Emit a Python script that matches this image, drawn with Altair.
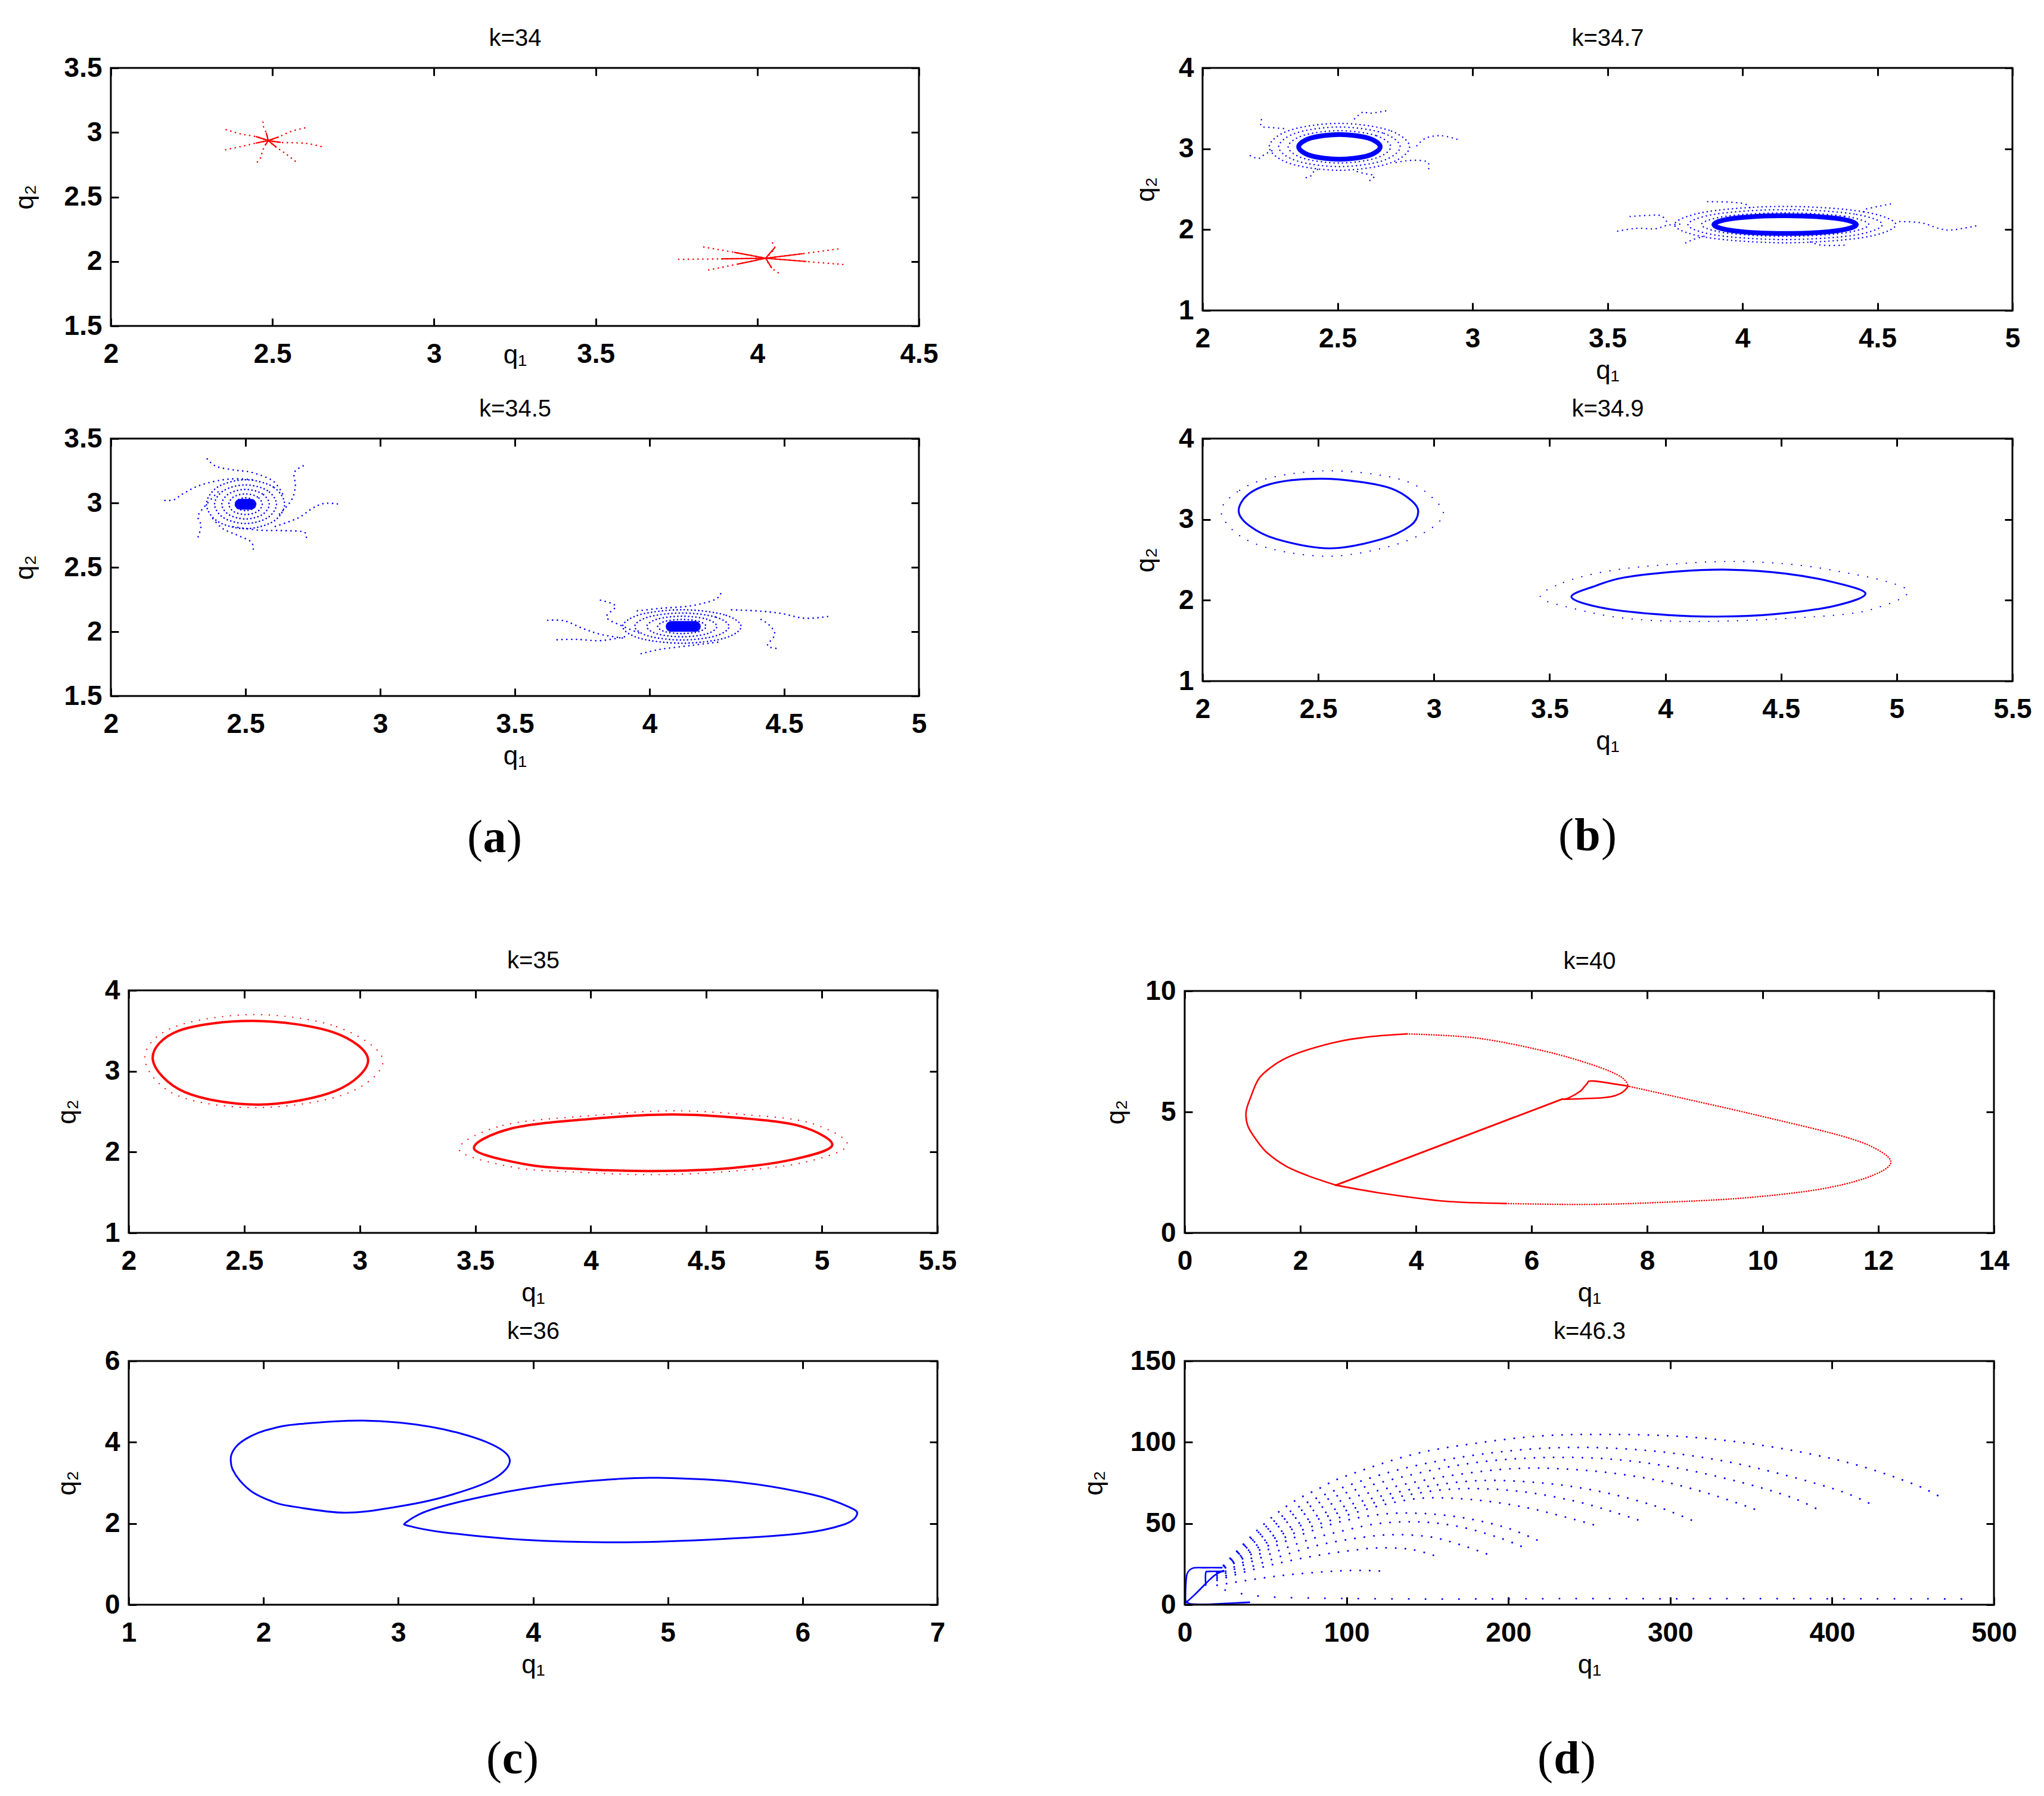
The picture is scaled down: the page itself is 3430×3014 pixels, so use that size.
import altair as alt
import pandas as pd

W, H = 3414, 2998          # drawing area (page minus the 8px margins)
RED, BLUE = "#ff0000", "#0000ff"
SANS = "Liberation Sans, Arial, Helvetica, sans-serif"
SERIF = "Liberation Serif, Times New Roman, serif"

# ---------------- panel titles, domains and ticks ----------------
PANEL_TITLES = {"A1": "k=34", "A2": "k=34.5", "B1": "k=34.7", "B2": "k=34.9",
                "C1": "k=35", "C2": "k=36", "D1": "k=40", "D2": "k=46.3"}
X_DOMAINS = {"A1": [2, 4.5], "A2": [2, 5], "B1": [2, 5], "B2": [2, 5.5],
             "C1": [2, 5.5], "C2": [1, 7], "D1": [0, 14], "D2": [0, 500]}
Y_DOMAINS = {"A1": [1.5, 3.5], "A2": [1.5, 3.5], "B1": [1, 4], "B2": [1, 4],
             "C1": [1, 4], "C2": [0, 6], "D1": [0, 10], "D2": [0, 150]}
X_TICKS = {"A1": [2, 2.5, 3, 3.5, 4, 4.5],
           "A2": [2, 2.5, 3, 3.5, 4, 4.5, 5],
           "B1": [2, 2.5, 3, 3.5, 4, 4.5, 5],
           "B2": [2, 2.5, 3, 3.5, 4, 4.5, 5, 5.5],
           "C1": [2, 2.5, 3, 3.5, 4, 4.5, 5, 5.5],
           "C2": [1, 2, 3, 4, 5, 6, 7],
           "D1": [0, 2, 4, 6, 8, 10, 12, 14],
           "D2": [0, 100, 200, 300, 400, 500]}
Y_TICKS = {"A1": [1.5, 2, 2.5, 3, 3.5], "A2": [1.5, 2, 2.5, 3, 3.5],
           "B1": [1, 2, 3, 4], "B2": [1, 2, 3, 4], "C1": [1, 2, 3, 4],
           "C2": [0, 2, 4, 6], "D1": [0, 5, 10], "D2": [0, 50, 100, 150]}
GROUP_LABELS = ["a", "b", "c", "d"]

# ---------------- k=34 : red star-shaped trajectories ----------------
K34_LEFT_ARMS = [
    [(2.487, 2.937), (2.481, 2.995), (2.471, 3.057), (2.473, 3.115)],
    [(2.487, 2.937), (2.450, 2.967), (2.401, 2.989), (2.347, 3.029)],
    [(2.487, 2.937), (2.450, 2.918), (2.401, 2.890), (2.351, 2.864)],
    [(2.487, 2.937), (2.478, 2.903), (2.468, 2.849), (2.465, 2.811), (2.451, 2.764)],
    [(2.487, 2.937), (2.511, 2.887), (2.542, 2.833), (2.573, 2.772)],
    [(2.487, 2.937), (2.524, 2.923), (2.604, 2.915), (2.659, 2.885)],
    [(2.487, 2.937), (2.518, 2.964), (2.560, 3.010), (2.613, 3.042)],
]
K34_RIGHT_ARMS = [
    [(4.026, 2.025), (4.054, 2.107), (4.039, 2.162)],
    [(4.026, 2.025), (4.044, 1.952), (4.069, 1.906)],
    [(4.026, 2.025), (3.890, 2.020), (3.757, 2.016)],
    [(4.026, 2.025), (3.930, 2.070), (3.831, 2.113)],
    [(4.026, 2.025), (3.940, 1.980), (3.849, 1.934)],
    [(4.026, 2.025), (4.140, 2.060), (4.254, 2.098)],
    [(4.026, 2.025), (4.150, 2.000), (4.277, 1.974)],
]

# ---------------- k=34.5 : blue spiral foci ----------------
K345_LEFT_TAILS = [
    [(2.358, 3.342), (2.391, 3.284), (2.460, 3.255), (2.525, 3.236), (2.603, 3.169), (2.640, 3.060)],
    [(2.714, 3.288), (2.681, 3.236), (2.685, 3.131), (2.670, 3.020), (2.620, 2.900)],
    [(2.841, 2.992), (2.792, 2.996), (2.748, 2.958), (2.693, 2.881), (2.600, 2.810)],
    [(2.726, 2.733), (2.715, 2.775), (2.638, 2.785), (2.547, 2.789), (2.440, 2.820)],
    [(2.529, 2.641), (2.520, 2.699), (2.469, 2.750), (2.413, 2.804), (2.370, 2.900)],
    [(2.324, 2.737), (2.335, 2.824), (2.324, 2.900), (2.358, 2.996), (2.400, 3.090)],
    [(2.201, 3.019), (2.235, 3.025), (2.269, 3.073), (2.335, 3.140), (2.436, 3.185), (2.530, 3.180)],
]
K345_LEFT_RINGS = [
    [(2.645, 2.99), (2.603, 3.124), (2.50, 3.18), (2.397, 3.124), (2.355, 2.99), (2.397, 2.856), (2.50, 2.80), (2.603, 2.856)],
    [(2.615, 2.99), (2.581, 3.096), (2.50, 3.14), (2.419, 3.096), (2.385, 2.99), (2.419, 2.884), (2.50, 2.84), (2.581, 2.884)],
    [(2.588, 2.99), (2.562, 3.071), (2.50, 3.105), (2.438, 3.071), (2.412, 2.99), (2.438, 2.909), (2.50, 2.875), (2.562, 2.909)],
    [(2.562, 2.99), (2.544, 3.047), (2.50, 3.07), (2.456, 3.047), (2.438, 2.99), (2.456, 2.933), (2.50, 2.91), (2.544, 2.933)],
    [(2.538, 2.99), (2.527, 3.025), (2.50, 3.04), (2.473, 3.025), (2.462, 2.99), (2.473, 2.955), (2.50, 2.94), (2.527, 2.955)],
]
K345_RIGHT_TAILS = [
    [(3.818, 2.244), (3.874, 2.199), (3.840, 2.113), (3.896, 2.046), (3.960, 1.990)],
    [(3.622, 2.088), (3.684, 2.084), (3.751, 2.026), (3.818, 1.979), (3.900, 1.950)],
    [(3.657, 1.937), (3.729, 1.940), (3.818, 1.930), (3.907, 1.960)],
    [(3.969, 1.829), (4.041, 1.863), (4.152, 1.892), (4.263, 1.921)],
    [(4.469, 1.870), (4.438, 1.894), (4.465, 1.979), (4.442, 2.056), (4.400, 2.110)],
    [(4.661, 2.117), (4.576, 2.104), (4.487, 2.142), (4.398, 2.161), (4.300, 2.170)],
    [(4.264, 2.295), (4.241, 2.248), (4.152, 2.200), (4.041, 2.181), (3.950, 2.160)],
]
K345_RIGHT_RINGS = [
    [(4.34, 2.04), (4.276, 2.132), (4.12, 2.17), (3.964, 2.132), (3.90, 2.04), (3.964, 1.948), (4.12, 1.91), (4.276, 1.948)],
    [(4.295, 2.04), (4.244, 2.114), (4.12, 2.145), (3.996, 2.114), (3.945, 2.04), (3.996, 1.966), (4.12, 1.935), (4.244, 1.966)],
    [(4.25, 2.04), (4.212, 2.097), (4.12, 2.12), (4.028, 2.097), (3.99, 2.04), (4.028, 1.983), (4.12, 1.96), (4.212, 1.983)],
    [(4.21, 2.04), (4.184, 2.079), (4.12, 2.095), (4.056, 2.079), (4.03, 2.04), (4.056, 2.001), (4.12, 1.985), (4.184, 2.001)],
    [(4.17, 2.04), (4.155, 2.061), (4.12, 2.07), (4.085, 2.061), (4.07, 2.04), (4.085, 2.019), (4.12, 2.01), (4.155, 2.019)],
]
K345_CORES = [[(2.48, 2.99), (2.52, 2.99)], [(4.08, 2.04), (4.17, 2.04)]]

# ---------------- k=34.7 : limit cycles with surrounding spirals ----------------
K347_CYCLES = [
    [(2.658, 3.024), (2.614, 3.132), (2.507, 3.177), (2.400, 3.132), (2.356, 3.024), (2.400, 2.916), (2.507, 2.871), (2.614, 2.916)],
    [(4.422, 2.062), (4.345, 2.140), (4.158, 2.172), (3.971, 2.140), (3.894, 2.062), (3.971, 1.984), (4.158, 1.952), (4.345, 1.984)],
]
K347_CLOUD_RINGS = [
    [(2.697, 3.024), (2.641, 3.165), (2.507, 3.224), (2.373, 3.165), (2.317, 3.024), (2.373, 2.883), (2.507, 2.824), (2.641, 2.883)],
    [(2.732, 3.024), (2.666, 3.197), (2.507, 3.269), (2.348, 3.197), (2.282, 3.024), (2.348, 2.851), (2.507, 2.779), (2.666, 2.851)],
    [(2.767, 3.024), (2.691, 3.229), (2.507, 3.314), (2.323, 3.229), (2.247, 3.024), (2.323, 2.819), (2.507, 2.734), (2.691, 2.819)],
    [(4.468, 2.062), (4.377, 2.165), (4.158, 2.207), (3.939, 2.165), (3.848, 2.062), (3.939, 1.959), (4.158, 1.917), (4.377, 1.959)],
    [(4.518, 2.062), (4.413, 2.193), (4.158, 2.247), (3.903, 2.193), (3.798, 2.062), (3.903, 1.931), (4.158, 1.877), (4.413, 1.931)],
    [(4.568, 2.062), (4.448, 2.221), (4.158, 2.287), (3.868, 2.221), (3.748, 2.062), (3.868, 1.903), (4.158, 1.837), (4.448, 1.903)],
]
K347_TAILS = [
    [(2.218, 3.360), (2.218, 3.278), (2.253, 3.263), (2.300, 3.250)],
    [(2.177, 2.914), (2.207, 2.880), (2.230, 2.931), (2.260, 2.980)],
    [(2.384, 2.644), (2.402, 2.667), (2.414, 2.725), (2.440, 2.760)],
    [(2.620, 2.608), (2.636, 2.667), (2.597, 2.695), (2.560, 2.730)],
    [(2.838, 2.754), (2.831, 2.841), (2.769, 2.856), (2.712, 2.827)],
    [(2.942, 3.118), (2.884, 3.162), (2.827, 3.132), (2.792, 3.031)],
    [(2.678, 3.468), (2.620, 3.439), (2.593, 3.453), (2.560, 3.360)],
    [(3.538, 1.981), (3.607, 2.016), (3.676, 2.010), (3.722, 2.054), (3.780, 2.070)],
    [(3.584, 2.162), (3.653, 2.176), (3.699, 2.171), (3.722, 2.084)],
    [(3.871, 2.346), (3.951, 2.340), (4.009, 2.317), (4.030, 2.260)],
    [(4.548, 2.317), (4.502, 2.287), (4.450, 2.250)],
    [(4.864, 2.045), (4.777, 1.996), (4.731, 2.011), (4.662, 2.084), (4.580, 2.100)],
    [(4.376, 1.807), (4.295, 1.807), (4.250, 1.850)],
    [(3.790, 1.836), (3.820, 1.880), (3.860, 1.920)],
]

# ---------------- k=34.9 : two limit cycles ----------------
K349_CYCLES = [
    [(2.51, 3.503), (2.68, 3.465), (2.817, 3.381), (2.905, 3.228), (2.932, 3.091), (2.898, 2.922), (2.772, 2.754),
     (2.55, 2.642), (2.322, 2.754), (2.202, 2.922), (2.156, 3.108), (2.202, 3.32), (2.322, 3.457)],
    [(3.594, 2.042), (3.70, 2.18), (3.821, 2.281), (4.05, 2.355), (4.276, 2.378), (4.52, 2.33), (4.731, 2.22),
     (4.865, 2.082), (4.731, 1.93), (4.48, 1.83), (4.222, 1.798), (3.95, 1.83), (3.714, 1.914)],
]
K349_OUTER = [
    [(2.08, 3.10), (2.16, 3.36), (2.30, 3.52), (2.52, 3.60), (2.74, 3.56), (2.90, 3.45), (3.00, 3.25), (3.04, 3.05),
     (2.96, 2.84), (2.80, 2.66), (2.56, 2.545), (2.32, 2.62), (2.16, 2.80)],
    [(3.46, 2.04), (3.56, 2.22), (3.75, 2.36), (4.00, 2.44), (4.28, 2.48), (4.56, 2.44), (4.80, 2.33), (4.97, 2.22),
     (5.05, 2.10), (4.95, 1.94), (4.75, 1.82), (4.22, 1.74), (3.85, 1.77), (3.60, 1.90)],
]

# ---------------- k=35 : two red limit cycles ----------------
K35_CYCLES = [
    [(2.54, 3.622), (2.882, 3.485), (3.036, 3.14), (2.895, 2.757), (2.562, 2.587), (2.242, 2.742), (2.104, 3.149), (2.216, 3.50)],
    [(3.495, 2.04), (3.654, 2.29), (4.0, 2.41), (4.347, 2.465), (4.65, 2.42), (4.907, 2.32), (5.045, 2.086),
     (4.88, 1.911), (4.6, 1.80), (4.267, 1.765), (3.95, 1.79), (3.708, 1.853)],
]
K35_OUTER = [
    [(2.54, 3.70), (2.90, 3.55), (3.10, 3.14), (2.94, 2.72), (2.56, 2.55), (2.21, 2.70), (2.07, 3.15), (2.19, 3.54)],
    [(3.43, 2.03), (3.62, 2.33), (4.0, 2.45), (4.35, 2.51), (4.68, 2.46), (4.95, 2.36), (5.11, 2.09),
     (4.92, 1.87), (4.6, 1.76), (4.27, 1.72), (3.95, 1.75), (3.67, 1.81)],
]

# ---------------- k=36 : two blue closed orbits ----------------
K36_CYCLES = [
    [(1.758, 3.512), (1.762, 3.698), (1.803, 3.914), (1.872, 4.087), (1.963, 4.235), (2.077, 4.347), (2.237, 4.439),
     (2.740, 4.532), (3.242, 4.378), (3.653, 4.007), (3.827, 3.574), (3.698, 3.08), (3.333, 2.648), (2.968, 2.40),
     (2.603, 2.265), (2.191, 2.432), (2.054, 2.556), (1.918, 2.773), (1.826, 3.05), (1.771, 3.327)],
    [(3.059, 2.03), (3.242, 2.34), (3.698, 2.71), (4.156, 2.958), (4.612, 3.093), (4.932, 3.123), (5.526, 3.019),
     (6.074, 2.71), (6.348, 2.402), (6.403, 2.216), (6.302, 1.97), (5.982, 1.753), (5.297, 1.599), (4.612, 1.537),
     (3.927, 1.599), (3.333, 1.784), (3.082, 1.938)],
]

# ---------------- k=40 : red orbit with two loops ----------------
K40_LEFT_LOOP = [(2.616, 1.973), (2.134, 2.362), (1.759, 2.751), (1.437, 3.288), (1.245, 3.823), (1.095, 4.407),
                 (1.062, 4.992), (1.137, 5.576), (1.277, 6.355), (1.491, 6.842), (1.759, 7.232), (2.134, 7.573),
                 (2.67, 7.914), (3.206, 8.108), (3.849, 8.225), (5.028, 8.06), (6.206, 7.524), (7.064, 6.94),
                 (7.546, 6.453), (7.674, 6.063), (7.546, 5.771), (7.278, 5.596), (6.635, 5.527), (6.528, 5.527)]
K40_CHORD = [(6.528, 5.527), (2.616, 1.973)]
K40_LOWER = [(2.616, 1.973), (3.42, 1.633), (4.492, 1.31), (5.564, 1.214), (6.957, 1.175), (8.242, 1.261),
             (9.636, 1.436), (10.92, 1.778), (11.78, 2.266), (12.21, 2.85), (11.99, 3.433), (11.35, 4.018),
             (9.85, 4.894), (8.778, 5.478), (7.674, 6.063), (7.064, 6.278), (6.957, 6.16), (6.85, 5.87),
             (6.635, 5.57), (6.528, 5.527)]

# ---------------- k=46.3 : blue escaping trajectories ----------------
K463_ARCS = [
    [(20, 20), (45, 46), (65, 62), (84, 72), (99, 79), (141, 92.5), (180, 99.4), (222, 104), (264, 104.8),
     (306, 103.6), (344, 99.9), (382, 93.7), (417, 85.5), (451, 74), (467, 66.2)],
    [(20, 20), (45, 44), (70, 60), (100, 73), (140, 85), (190, 93.5), (237, 96.8), (285, 95), (330, 89),
     (370, 80), (405, 70), (424, 61.9)],
    [(20, 20), (45, 42), (70, 57), (100, 69), (140, 80), (180, 87.5), (222, 90.6), (265, 89.5), (305, 84),
     (345, 75), (375, 66), (392, 58.2)],
    [(20, 20), (45, 40), (70, 54), (100, 65), (140, 75), (175, 81), (210, 84), (250, 82.5), (290, 77),
     (325, 68), (357, 57)],
    [(20, 20), (45, 37), (70, 50), (100, 61), (140, 71), (180, 76.3), (220, 75), (255, 70), (290, 61), (315, 51.2)],
    [(20, 20), (45, 35), (70, 48), (100, 58), (135, 67), (168, 71.3), (205, 70), (240, 64), (265, 57), (283, 51.2)],
    [(20, 20), (45, 33), (70, 45), (100, 55), (125, 62), (149, 65.7), (180, 64.5), (210, 60), (235, 54), (255, 48.5)],
    [(20, 18), (40, 28), (60, 38), (80, 46), (100, 52), (125, 56), (150, 56), (175, 53), (200, 47), (220, 38.7)],
    [(20, 17), (40, 26), (60, 34), (80, 41), (100, 46), (120, 50), (145, 51), (170, 48), (195, 41), (210, 35)],
    [(20, 16), (40, 23), (60, 30), (80, 36), (100, 40), (125, 43), (150, 42), (170, 37), (190, 30)],
    [(20, 15), (40, 21), (60, 26), (80, 30), (100, 33), (120, 35), (140, 34), (155, 30)],
    [(20, 12), (45, 16), (70, 19), (100, 21), (122, 20.7)],
]
K463_FLOOR = [(25, 9), (40, 6), (60, 4.5), (100, 3.8), (150, 3.5), (200, 3.6), (250, 3.8), (300, 3.7),
              (350, 3.8), (400, 3.7), (480, 3.6)]
K463_CORE = [
    [(0.5, 1.0), (0.6, 10), (1.5, 19), (5, 22.5), (12, 22.8), (23, 22.8)],
    [(0.5, 2.5), (3, 0.6), (10, 0.2), (22, 0.6), (40, 1.5)],
    [(1, 1.5), (6, 6), (11, 11), (15, 15), (19, 18.5), (24, 21)],
    [(13, 12), (13, 19.5), (15, 20.5), (24, 20.5)],
]

# ---------------- layout (page pixels) ----------------
BOX = {  # left, right, top, bottom of each plot frame
    "A1": (186, 1542, 114, 547), "A2": (186, 1542, 736, 1168),
    "B1": (2018, 3377, 114, 521), "B2": (2018, 3377, 736, 1143),
    "C1": (216, 1573, 1662, 2069), "C2": (216, 1573, 2284, 2693),
    "D1": (1988, 3346, 1663, 2069), "D2": (1988, 3346, 2284, 2693),
}
Q2_X = {"A1": -144, "A2": -144, "B1": -95, "B2": -95, "C1": -103, "C2": -103, "D1": -115, "D2": -152}
Q1_Y = {"A1": 75, "A2": 127, "B1": 127, "B2": 127, "C1": 127, "C2": 127, "D1": 127, "D2": 127}
LABEL_POS = {"a": (822, 1399), "b": (2656, 1396), "c": (852, 2945), "d": (2621, 2945)}
LABEL_HALF = {"a": 19, "b": 22, "c": 17, "d": 22}
TICK = 13


def scales(p):
    l, r, t, b = BOX[p]
    sx = alt.Scale(domain=X_DOMAINS[p], range=[l - 8, r - 8], nice=False, zero=False)
    sy = alt.Scale(domain=Y_DOMAINS[p], range=[b - 8, t - 8], nice=False, zero=False)
    return sx, sy


def curve_df(curves):
    rows = []
    for g, c in enumerate(curves):
        for o, (x, y) in enumerate(c):
            rows.append({"x": x, "y": y, "g": g, "o": o})
    return pd.DataFrame(rows)


layers = []


def add(p, curves, color, width, dash=None, closed=False, interp="cardinal"):
    sx, sy = scales(p)
    kw = dict(color=color, strokeWidth=width, strokeCap="round", strokeJoin="round",
              interpolate="cardinal-closed" if closed else interp)
    if dash is not None:
        kw["strokeDash"] = dash
    layers.append(
        alt.Chart(curve_df(curves)).mark_line(**kw).encode(
            x=alt.X("x:Q", scale=sx, axis=None),
            y=alt.Y("y:Q", scale=sy, axis=None),
            detail="g:N", order="o:Q"))


# k=34
add("A1", K34_LEFT_ARMS + K34_RIGHT_ARMS, RED, 2.6, dash=[0.1, 8])
add("A1", [a[:2] for a in K34_LEFT_ARMS + K34_RIGHT_ARMS], RED, 2.2)
# k=34.5
add("A2", K345_LEFT_TAILS + K345_RIGHT_TAILS, BLUE, 2.6, dash=[0.1, 8])
add("A2", K345_LEFT_RINGS + K345_RIGHT_RINGS, BLUE, 2.6, dash=[0.1, 6], closed=True)
add("A2", K345_CORES, BLUE, 18)
# k=34.7
add("B1", K347_TAILS, BLUE, 2.4, dash=[0.1, 8])
add("B1", K347_CLOUD_RINGS, BLUE, 2.4, dash=[0.1, 7], closed=True)
add("B1", K347_CYCLES, BLUE, 8, closed=True)
# k=34.9
add("B2", K349_OUTER, BLUE, 2.2, dash=[0.1, 16], closed=True)
add("B2", K349_CYCLES, BLUE, 3.2, closed=True)
# k=35
add("C1", K35_OUTER, RED, 2.2, dash=[0.1, 13], closed=True)
add("C1", K35_CYCLES, RED, 4, closed=True)
# k=36
add("C2", K36_CYCLES, BLUE, 3, closed=True)
# k=40
add("D1", [K40_LEFT_LOOP[:15], K40_LEFT_LOOP[19:]], RED, 2.6)
add("D1", [K40_LEFT_LOOP[14:20]], RED, 2.6, dash=[0.1, 4])
add("D1", [K40_CHORD], RED, 3, interp="linear")
add("D1", [K40_LOWER[:4], K40_LOWER[14:]], RED, 2.6)
add("D1", [K40_LOWER[3:15]], RED, 2.6, dash=[0.1, 4])
# k=46.3
add("D2", K463_ARCS, BLUE, 3, dash=[0.1, 16])
add("D2", [K463_FLOOR], BLUE, 3, dash=[0.1, 28])
add("D2", K463_CORE, BLUE, 2.6)


def frame(p):
    l, r, t, b = BOX[p]
    sx, sy = scales(p)
    df = pd.DataFrame([{"x0": X_DOMAINS[p][0], "x1": X_DOMAINS[p][1],
                        "y0": Y_DOMAINS[p][0], "y1": Y_DOMAINS[p][1]}])
    tick = dict(domain=False, grid=False, tickSize=TICK, tickWidth=3, tickColor="black")
    lab = dict(labelFont=SANS, labelFontSize=46, labelFontWeight="bold", labelColor="black",
               labelOverlap=False, labelExpr="'' + datum.value")
    ttl = dict(titleFont=SANS, titleFontSize=44, titleFontWeight="normal", titleColor="black")
    xb = alt.Axis(orient="bottom", values=X_TICKS[p], offset=b - 8 - TICK - H, labelPadding=25,
                  labelFlush=False, title="q₁", titleBaseline="alphabetic", titleY=Q1_Y[p],
                  **tick, **lab, **ttl)
    yl = alt.Axis(orient="left", values=Y_TICKS[p], offset=-(l - 8 + TICK), labelPadding=15,
                  title="q₂", titleAngle=270, titleBaseline="alphabetic", titleX=Q2_X[p],
                  **tick, **lab, **ttl)
    box = alt.Chart(df).mark_rect(fillOpacity=0, stroke="black", strokeWidth=3).encode(
        x=alt.X("x0:Q", scale=sx, axis=xb), x2="x1:Q",
        y=alt.Y("y0:Q", scale=sy, axis=yl), y2="y1:Q")
    xt = alt.Axis(orient="top", values=X_TICKS[p], offset=-(t - 8 + TICK), labels=False,
                  title=PANEL_TITLES[p], titleFont=SANS, titleFontSize=40, titleFontWeight="normal",
                  titleColor="black", titleBaseline="alphabetic", titleY=-51, **tick)
    yr = alt.Axis(orient="right", values=Y_TICKS[p], offset=(r - 8 - TICK) - W, labels=False,
                  title="", **tick)
    aux = alt.Chart(df).mark_point(opacity=0).encode(
        x=alt.X("x0:Q", scale=sx, axis=xt),
        y=alt.Y("y0:Q", scale=sy, axis=yr))
    return [box, aux]


for p in BOX:
    layers.extend(frame(p))


def text_piece(txt, x, y, align, weight):
    return alt.Chart(pd.DataFrame({"t": [txt]})).mark_text(
        text=txt, font=SERIF, fontSize=78, fontWeight=weight, align=align,
        baseline="middle", color="black").encode(x=alt.value(x), y=alt.value(y))


for g in GROUP_LABELS:
    cx, cy = LABEL_POS[g]
    hw = LABEL_HALF[g]
    layers.append(text_piece("(", cx - hw - 1, cy, "right", "normal"))
    layers.append(text_piece(g, cx, cy, "center", "bold"))
    layers.append(text_piece(")", cx + hw + 1, cy, "left", "normal"))

chart = (alt.layer(*layers)
         .resolve_scale(x="independent", y="independent")
         .resolve_axis(x="independent", y="independent")
         .properties(width=W, height=H, autosize=alt.AutoSizeParams(type="none"), padding=0)
         .configure_view(strokeWidth=0))

chart.save("out.html", embed_options={"renderer": "svg", "actions": False})
